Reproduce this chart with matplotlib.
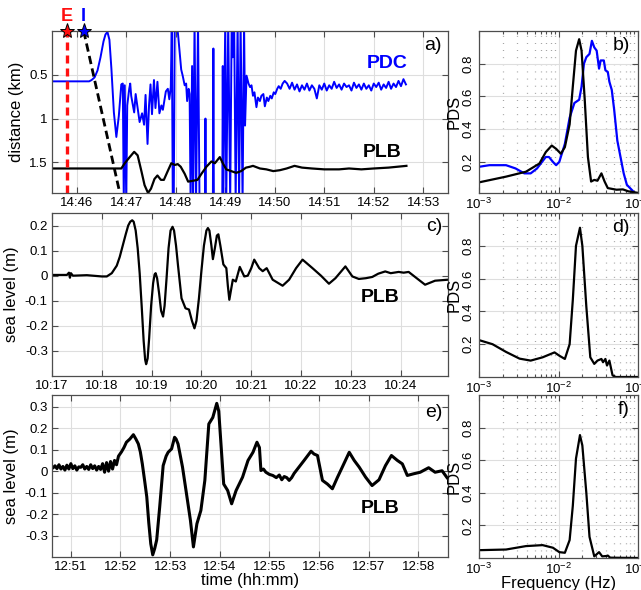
import numpy as np
import matplotlib
matplotlib.use("Agg")
import matplotlib.pyplot as plt
from matplotlib.ticker import LogLocator, NullFormatter

plt.rcParams['font.family'] = ['Liberation Sans', 'DejaVu Sans']
plt.rcParams['axes.unicode_minus'] = False

# ---- a) distance of PDC front and PLB record (minutes after 14:00) ----
E_TIME = 45.80   # eruption onset
I_TIME = 46.14   # impact time

pdc_t = [45.50, 46.25, 46.30, 46.36, 46.42, 46.48, 46.54, 46.58, 46.62, 46.66,
         46.70, 46.75, 46.80, 46.85, 46.90, 46.93, 46.95, 46.97, 47.00, 47.02,
         47.06, 47.08, 47.10, 47.16, 47.19, 47.23, 47.27, 47.32, 47.36, 47.39,
         47.43, 47.46, 47.49, 47.52, 47.56, 47.59, 47.63, 47.67, 47.71, 47.74,
         47.80, 47.84, 47.87, 47.90, 47.92, 47.94, 47.96, 47.98, 48.02, 48.05,
         48.08, 48.11, 48.14, 48.18, 48.21, 48.23, 48.26, 48.28, 48.30, 48.33,
         48.35, 48.38, 48.41, 48.45, 48.48, 48.59, 48.60, 48.61, 48.75, 48.76,
         48.77, 48.94, 48.95, 48.96, 49.00, 49.02, 49.06, 49.10, 49.13, 49.15,
         49.18, 49.21, 49.25, 49.28, 49.31, 49.35, 49.38, 49.40, 49.43, 49.47,
         49.50, 49.53, 49.56, 49.59, 49.63, 49.66, 49.70, 49.73, 49.77, 49.80,
         49.84, 49.87, 49.91, 49.94, 49.98, 50.01, 50.05, 50.08, 50.12, 50.16,
         50.20]
pdc_d = [0.575, 0.575, 0.56, 0.53, 0.45, 0.30, 0.12, 0.04, 0.01, 0.10,
         0.43, 0.93, 1.21, 0.97, 0.61, 0.60, 1.95, 0.62, 1.95, 0.85,
         0.66, 0.60, 0.74, 0.93, 0.72, 0.88, 1.04, 0.94, 1.07, 0.73,
         1.29, 0.85, 0.61, 0.95, 0.56, 0.88, 0.58, 0.94, 0.85, 0.90,
         0.69, 0.66, 0.78, 0.64, -0.10, 1.95, 1.95, -0.10, -0.10, 0.06,
         0.25, 0.44, 0.51, 0.62, 0.60, 0.80, 0.66, 0.72, 1.95, 0.40,
         1.95, -0.10, 1.95, -0.10, 1.95, 1.95, 1.00, 1.95, 1.95, 0.20,
         1.95, 1.95, 0.40, 1.95, -0.10, 1.95, -0.10, 1.95, -0.10, 0.30,
         -0.10, 1.95, -0.10, 1.95, -0.10, 1.95, -0.10, 1.08, 0.51, 0.60,
         0.64, 0.62, 0.74, 0.70, 0.87, 0.76, 0.80, 0.74, 0.72, 0.86,
         0.76, 0.80, 0.74, 0.77, 0.70, 0.72, 0.66, 0.63, 0.66, 0.60,
         0.57]
pdc_tail_t = [50.25, 50.30, 50.35, 50.40, 50.45, 50.50, 50.55, 50.60, 50.65, 50.70,
              50.75, 50.80, 50.85, 50.90, 50.95, 51.00, 51.05, 51.10, 51.15, 51.20,
              51.25, 51.30, 51.35, 51.40, 51.45, 51.50, 51.55, 51.60, 51.65, 51.70,
              51.75, 51.80, 51.85, 51.90, 51.95, 52.00, 52.05, 52.10, 52.15, 52.20,
              52.25, 52.30, 52.35, 52.40, 52.45, 52.50, 52.55, 52.60, 52.65]
pdc_tail_d = [0.60, 0.66, 0.59, 0.67, 0.61, 0.69, 0.62, 0.67, 0.60, 0.68,
              0.62, 0.66, 0.77, 0.62, 0.67, 0.60, 0.68, 0.62, 0.66, 0.58,
              0.65, 0.61, 0.67, 0.60, 0.64, 0.62, 0.68, 0.59, 0.65, 0.61,
              0.67, 0.60, 0.66, 0.62, 0.68, 0.60, 0.64, 0.59, 0.67, 0.61,
              0.65, 0.58, 0.66, 0.60, 0.64, 0.57, 0.63, 0.55, 0.61]

plb_a_t = [45.50, 46.90, 46.97, 47.07, 47.16, 47.23, 47.31, 47.37, 47.44, 47.50,
           47.57, 47.63, 47.70, 47.76, 47.83, 47.91, 47.98, 48.04, 48.10, 48.18,
           48.25, 48.35, 48.44, 48.52, 48.62, 48.72, 48.79, 48.89, 48.96, 49.02,
           49.12, 49.22, 49.32, 49.42, 49.50, 49.56, 49.70, 49.83, 49.97, 50.10,
           50.24, 50.40, 50.55, 50.75, 51.00, 51.30, 51.50, 51.75, 52.00, 52.30,
           52.66]
plb_a_d = [1.57, 1.57, 1.51, 1.44, 1.38, 1.42, 1.61, 1.76, 1.85, 1.80,
           1.69, 1.65, 1.70, 1.70, 1.61, 1.51, 1.53, 1.52, 1.55, 1.63,
           1.72, 1.71, 1.70, 1.63, 1.55, 1.49, 1.51, 1.44, 1.52, 1.58,
           1.60, 1.62, 1.60, 1.56, 1.55, 1.54, 1.57, 1.58, 1.60, 1.59,
           1.57, 1.54, 1.56, 1.57, 1.58, 1.58, 1.57, 1.58, 1.57, 1.56,
           1.54]

front_t = [I_TIME, 46.87]
front_d = [0.0, 1.85]

a_ticks = [46, 47, 48, 49, 50, 51, 52, 53]
a_labels = ['14:46', '14:47', '14:48', '14:49', '14:50', '14:51', '14:52', '14:53']

# ---- c) sea level PLB, first event (minutes after 10:00) ----
c_t = [17.00, 17.30, 17.34, 17.36, 17.38, 17.42, 17.70, 18.00, 18.10, 18.20,
       18.30, 18.36, 18.42, 18.48, 18.53, 18.57, 18.61, 18.64, 18.68, 18.72,
       18.76, 18.80, 18.84, 18.87, 18.89, 18.92, 18.95, 18.99, 19.03, 19.06,
       19.08, 19.11, 19.15, 19.19, 19.23, 19.26, 19.30, 19.34, 19.38, 19.42,
       19.45, 19.49, 19.53, 19.60, 19.68, 19.75, 19.81, 19.86, 19.90, 19.95,
       20.00, 20.05, 20.10, 20.13, 20.16, 20.20, 20.23, 20.27, 20.31, 20.34,
       20.38, 20.44, 20.50, 20.53, 20.56, 20.60, 20.63, 20.69, 20.77, 20.86,
       20.93, 21.00, 21.06, 21.16, 21.23, 21.31, 21.43, 21.63, 21.76, 21.90,
       22.03, 22.23, 22.40, 22.56, 22.69, 22.89, 23.03, 23.16, 23.30, 23.43,
       23.55, 23.69, 23.80, 23.96, 24.06, 24.16, 24.36, 24.49, 24.69, 24.95]
c_v = [0.003, 0.003, 0.012, -0.008, 0.01, 0.0, 0.002, -0.003, -0.003, 0.01,
       0.04, 0.075, 0.12, 0.165, 0.20, 0.215, 0.221, 0.215, 0.18, 0.11,
       0.01, -0.12, -0.26, -0.335, -0.353, -0.33, -0.25, -0.12, -0.03, 0.005,
       0.01, -0.01, -0.07, -0.14, -0.163, -0.12, -0.01, 0.11, 0.18, 0.195,
       0.18, 0.12, 0.04, -0.09, -0.13, -0.135, -0.18, -0.21, -0.18, -0.09,
       0.02, 0.12, 0.18, 0.19, 0.18, 0.12, 0.066, 0.11, 0.16, 0.165,
       0.12, 0.045, 0.03, -0.04, -0.096, -0.05, -0.016, -0.023, 0.035, -0.003,
       0.0, 0.03, 0.064, 0.03, 0.018, 0.03, -0.016, -0.04, -0.016, 0.03,
       0.064, 0.03, 0.0, -0.032, -0.01, 0.037, -0.003, -0.013, -0.01, -0.005,
       0.008, 0.017, 0.01, 0.015, 0.012, 0.015, -0.016, -0.036, -0.02, -0.016]
c_ticks = [17, 18, 19, 20, 21, 22, 23, 24]
c_labels = ['10:17', '10:18', '10:19', '10:20', '10:21', '10:22', '10:23', '10:24']

# ---- e) sea level PLB, second event (minutes after 12:00) ----
e_t = [50.60, 50.64, 50.68, 50.72, 50.76, 50.80, 50.84, 50.88, 50.92, 50.96,
       51.00, 51.04, 51.08, 51.12, 51.16, 51.20, 51.24, 51.28, 51.32, 51.36,
       51.40, 51.44, 51.48, 51.52, 51.56, 51.60, 51.64, 51.68, 51.72, 51.76,
       51.80, 51.84, 51.88, 51.92, 51.96, 52.02, 52.07, 52.12, 52.19, 52.26,
       52.31, 52.36, 52.40, 52.44, 52.49, 52.53, 52.57, 52.61, 52.65, 52.69,
       52.73, 52.79, 52.86, 52.92, 52.96, 53.03, 53.09, 53.12, 53.16, 53.25,
       53.33, 53.41, 53.47, 53.54, 53.62, 53.70, 53.78, 53.86, 53.94, 53.98,
       54.03, 54.08, 54.16, 54.24, 54.33, 54.46, 54.57, 54.67, 54.75, 54.80,
       54.83, 54.88, 54.93, 55.00, 55.07, 55.14, 55.20, 55.25, 55.30, 55.35,
       55.40, 55.45, 55.50, 55.60, 55.70, 55.84, 55.90, 55.97, 56.07, 56.17,
       56.27, 56.37, 56.47, 56.61, 56.71, 56.81, 56.94, 57.07, 57.21, 57.34,
       57.46, 57.58, 57.68, 57.78, 57.91, 58.04, 58.21, 58.34, 58.48, 58.58]
e_v = [0.022, 0.015, 0.025, 0.012, 0.030, 0.010, 0.022, 0.005, 0.028, 0.010,
       0.035, 0.012, 0.025, 0.005, 0.020, 0.018, 0.030, 0.010, 0.022, 0.008,
       0.030, 0.012, 0.025, 0.005, 0.022, 0.008, 0.035, -0.005, 0.040, 0.000,
       0.045, 0.010, 0.050, 0.030, 0.070, 0.090, 0.110, 0.135, 0.150, 0.170,
       0.150, 0.127, 0.090, 0.034, -0.050, -0.120, -0.240, -0.338, -0.390, -0.360,
       -0.320, -0.167, 0.026, 0.070, 0.088, 0.104, 0.158, 0.150, 0.127, 0.019,
       -0.105, -0.230, -0.353, -0.245, -0.183, -0.043, 0.220, 0.250, 0.316, 0.280,
       0.110, -0.060, -0.090, -0.152, -0.090, -0.028, 0.050, 0.088, 0.135, 0.110,
       0.003, 0.010, -0.005, -0.015, -0.020, -0.030, -0.018, -0.040, -0.025, -0.030,
       -0.043, -0.030, -0.010, 0.020, 0.050, 0.093, 0.080, 0.073, -0.043, -0.060,
       -0.082, -0.030, 0.019, 0.088, 0.050, 0.019, -0.028, -0.067, -0.040, 0.026,
       0.073, 0.050, 0.034, -0.020, -0.012, -0.005, 0.016, -0.005, 0.002, -0.030]
e_ticks = [51, 52, 53, 54, 55, 56, 57, 58]
e_labels = ['12:51', '12:52', '12:53', '12:54', '12:55', '12:56', '12:57', '12:58']

# ---- spectra (log10 of frequency in Hz) ----
b_plb_logf = [-3.00, -2.66, -2.41, -2.24, -2.16, -2.085, -2.03, -1.97, -1.92, -1.86,
              -1.82, -1.78, -1.74, -1.71, -1.67, -1.63, -1.59, -1.55, -1.51, -1.46,
              -1.42, -1.38, -1.27, -1.19, -1.12, -0.99]
b_plb_pds = [0.075, 0.11, 0.14, 0.19, 0.26, 0.30, 0.28, 0.25, 0.29, 0.43,
             0.66, 0.88, 0.95, 0.88, 0.58, 0.23, 0.08, 0.09, 0.085, 0.13,
             0.08, 0.04, 0.03, 0.032, 0.02, 0.01]
b_pdc_logf = [-3.00, -2.87, -2.66, -2.54, -2.43, -2.35, -2.27, -2.16, -2.12, -2.07,
              -2.03, -1.99, -1.92, -1.86, -1.80, -1.74, -1.71, -1.68, -1.65, -1.61,
              -1.58, -1.55, -1.52, -1.49, -1.47, -1.43, -1.41, -1.38, -1.36, -1.33,
              -1.30, -1.26, -1.22, -1.18, -1.14, -1.10, -1.02]
b_pdc_pds = [0.17, 0.18, 0.18, 0.16, 0.13, 0.13, 0.16, 0.23, 0.23, 0.20,
             0.18, 0.20, 0.31, 0.47, 0.56, 0.58, 0.66, 0.80, 0.84, 0.86,
             0.94, 0.90, 0.88, 0.77, 0.82, 0.82, 0.76, 0.75, 0.69, 0.64,
             0.52, 0.33, 0.23, 0.13, 0.06, 0.04, 0.0]

d_logf = [-3.00, -2.83, -2.66, -2.49, -2.35, -2.20, -2.05, -1.99, -1.92, -1.86,
          -1.82, -1.78, -1.73, -1.70, -1.65, -1.60, -1.55, -1.51, -1.46, -1.44,
          -1.41, -1.39, -1.36, -1.32, -1.28, -1.00]
d_pds = [0.225, 0.20, 0.153, 0.112, 0.10, 0.12, 0.15, 0.13, 0.11, 0.20,
         0.47, 0.80, 0.91, 0.80, 0.43, 0.12, 0.08, 0.10, 0.11, 0.09,
         0.11, 0.07, 0.10, 0.01, 0.0, 0.0]

f_logf = [-3.00, -2.66, -2.41, -2.20, -2.07, -1.99, -1.92, -1.86, -1.82, -1.78,
          -1.73, -1.70, -1.65, -1.61, -1.55, -1.49, -1.45, -1.40, -1.38, -1.35,
          -1.00]
f_pds = [0.048, 0.052, 0.073, 0.079, 0.063, 0.036, 0.032, 0.11, 0.32, 0.61,
         0.754, 0.69, 0.40, 0.13, 0.01, 0.036, 0.01, 0.012, 0.015, 0.002,
         0.0]

pds_ticks = [0.2, 0.4, 0.6, 0.8]

W, H = 641, 590


def box(left, top, right, bottom):
    return [left / W, 1 - bottom / H, (right - left) / W, (bottom - top) / H]


def style(ax):
    ax.grid(True, color='0.87', lw=0.8)
    ax.set_axisbelow(True)
    ax.tick_params(which='both', direction='in', top=True, right=True,
                   length=4, width=0.8, labelsize=9.5, color='0.3', pad=3)
    for sp in ax.spines.values():
        sp.set_color('0.3')
        sp.set_linewidth(0.9)


def style_spec(ax, label):
    style(ax)
    ax.set_xscale('log')
    ax.set_xlim(1e-3, 1e-1)
    ax.set_ylim(0, 1)
    ax.xaxis.set_major_locator(LogLocator(base=10, numticks=5))
    ax.xaxis.set_minor_locator(LogLocator(base=10, subs=np.arange(2, 10), numticks=20))
    ax.xaxis.set_minor_formatter(NullFormatter())
    ax.grid(True, which='minor', axis='x', color='0.6', lw=0.9, dashes=(0.7, 5))
    ax.set_yticks(pds_ticks)
    ax.set_yticklabels(['0.2', '0.4', '0.6', '0.8'], rotation=90, va='center')
    ax.tick_params(axis='x', which='minor', length=2)
    ax.set_ylabel('PDS', fontsize=12, labelpad=1)
    ax.text(0.95, 0.91, label, transform=ax.transAxes, fontsize=14,
            ha='right', va='center')


fig = plt.figure(figsize=(6.41, 5.90), dpi=100)
ax_a = fig.add_axes(box(52, 31, 448, 193))
ax_b = fig.add_axes(box(479, 31, 638, 193))
ax_c = fig.add_axes(box(52, 213, 448, 376))
ax_d = fig.add_axes(box(479, 213, 638, 377))
ax_e = fig.add_axes(box(52, 395, 448, 557))
ax_f = fig.add_axes(box(479, 395, 638, 558))

# a) distance vs time
style(ax_a)
ax_a.plot(pdc_t + pdc_tail_t, pdc_d + pdc_tail_d, color='#0000ff', lw=1.4)
ax_a.plot(plb_a_t, plb_a_d, color='k', lw=1.6)
ax_a.axvline(E_TIME, color='#ff1010', lw=2.4, dashes=(2.4, 1.5))
ax_a.plot(front_t, front_d, color='k', lw=2.0, dashes=(3.0, 1.6))
ax_a.plot([E_TIME], [0], marker='*', ms=11, mfc='#ff1010', mec='k', mew=0.7,
          clip_on=False, zorder=6)
ax_a.plot([I_TIME], [0], marker='*', ms=11, mfc='#0000ff', mec='k', mew=0.7,
          clip_on=False, zorder=6)
ax_a.text(E_TIME, -0.16, 'E', color='#ff1010', fontsize=13, fontweight='bold',
          ha='center', va='center', clip_on=False)
ax_a.text(I_TIME, -0.16, 'I', color='#0000ff', fontsize=13, fontweight='bold',
          ha='center', va='center', clip_on=False)
ax_a.text(52.28, 0.37, 'PDC', color='#0000ff', fontsize=14, fontweight='bold',
          ha='center', va='center')
ax_a.text(52.16, 1.39, 'PLB', color='k', fontsize=14, fontweight='bold',
          ha='center', va='center')
ax_a.text(0.985, 0.91, 'a)', transform=ax_a.transAxes, fontsize=14,
          ha='right', va='center')
ax_a.set_xlim(45.5, 53.5)
ax_a.set_ylim(1.85, 0)
ax_a.set_xticks(a_ticks)
ax_a.set_xticklabels(a_labels)
ax_a.set_yticks([0.5, 1, 1.5])
ax_a.set_yticklabels(['0.5', '1', '1.5'])
ax_a.set_ylabel('distance (km)', fontsize=12, labelpad=4)

# c) sea level, first record
style(ax_c)
ax_c.plot(c_t, c_v, color='k', lw=1.6)
ax_c.set_xlim(17, 24.95)
ax_c.set_ylim(-0.4, 0.25)
ax_c.set_xticks(c_ticks)
ax_c.set_xticklabels(c_labels)
ax_c.set_yticks([0.2, 0.1, 0, -0.1, -0.2, -0.3])
ax_c.set_yticklabels(['0.2', '0.1', '0', '-0.1', '-0.2', '-0.3'])
ax_c.set_ylabel('sea level (m)', fontsize=12, labelpad=4)
ax_c.text(23.58, -0.085, 'PLB', fontsize=14, fontweight='bold',
          ha='center', va='center')
ax_c.text(0.985, 0.92, 'c)', transform=ax_c.transAxes, fontsize=14,
          ha='right', va='center')

# e) sea level, second record
style(ax_e)
ax_e.plot(e_t, e_v, color='k', lw=2.2)
ax_e.set_xlim(50.62, 58.6)
ax_e.set_ylim(-0.4, 0.355)
ax_e.set_xticks(e_ticks)
ax_e.set_xticklabels(e_labels)
ax_e.set_yticks([0.3, 0.2, 0.1, 0, -0.1, -0.2, -0.3])
ax_e.set_yticklabels(['0.3', '0.2', '0.1', '0', '-0.1', '-0.2', '-0.3'])
ax_e.set_ylabel('sea level (m)', fontsize=12, labelpad=4)
ax_e.set_xlabel('time (hh:mm)', fontsize=12, labelpad=0)
ax_e.text(57.24, -0.172, 'PLB', fontsize=14, fontweight='bold',
          ha='center', va='center')
ax_e.text(0.985, 0.895, 'e)', transform=ax_e.transAxes, fontsize=14,
          ha='right', va='center')

# spectra
style_spec(ax_b, 'b)')
ax_b.plot(10 ** np.array(b_pdc_logf), b_pdc_pds, color='#0000ff', lw=1.6)
ax_b.plot(10 ** np.array(b_plb_logf), b_plb_pds, color='k', lw=1.6)
ax_b.set_ylim(0.01, 1)

style_spec(ax_d, 'd)')
ax_d.plot(10 ** np.array(d_logf), d_pds, color='k', lw=1.6)

style_spec(ax_f, 'f)')
ax_f.plot(10 ** np.array(f_logf), f_pds, color='k', lw=1.6)
ax_f.set_xlabel('Frequency (Hz)', fontsize=12, labelpad=-1)

fig.savefig('out.png', dpi=100)
